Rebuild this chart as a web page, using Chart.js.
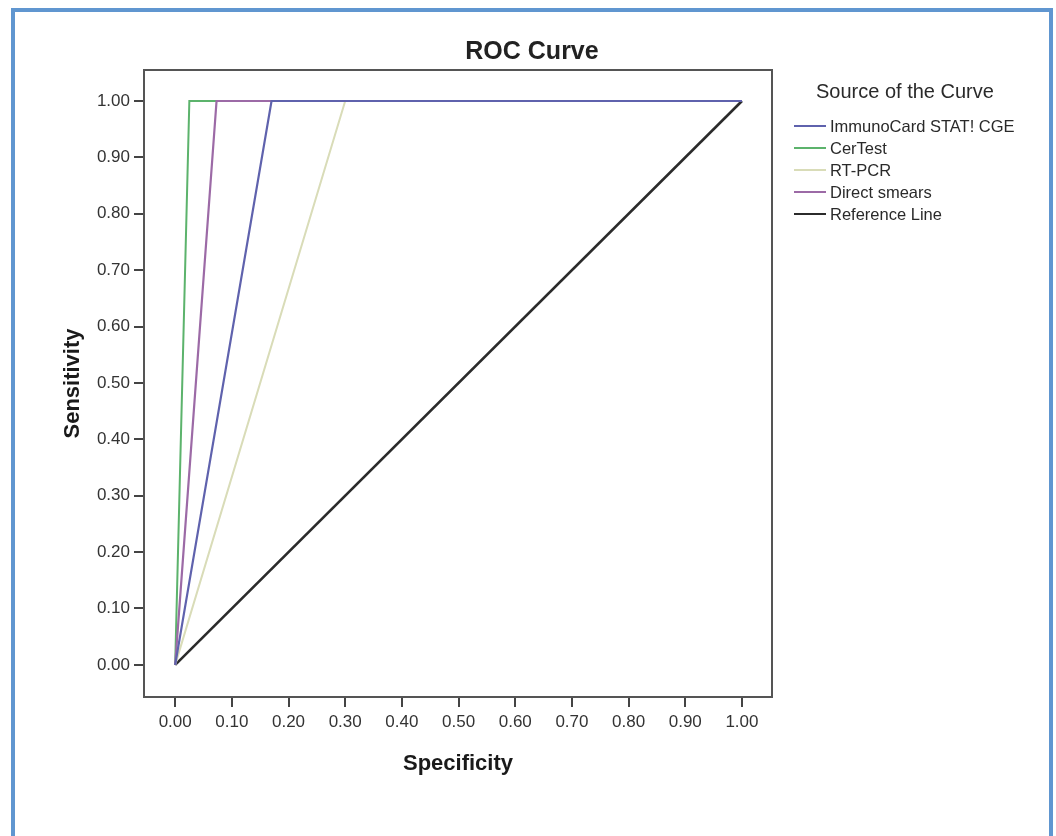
<!DOCTYPE html>
<html>
<head>
<meta charset="utf-8">
<script src="https://cdn.jsdelivr.net/npm/chart.js@4.4.1/dist/chart.umd.min.js"></script>
<style>
    body { margin: 0; background: #fff; font-family: "Liberation Sans", Arial, sans-serif; }
    #wrap { position: relative; width: 1056px; height: 836px; overflow: hidden; }
    #frame { position: absolute; left: 11px; top: 8px; width: 1034px; height: 840px;
             border: 4px solid #6096d0; border-bottom: none; }
    #roc_chart { position: absolute; left: 0; top: 0; }
    #title { position: absolute; left: 0; width: 1064px; top: 36px; text-align: center;
             font-size: 25px; font-weight: bold; color: #222; }
    #legend { position: absolute; left: 794px; top: 80px; color: #2a2a2a; }
    #legend .head { font-size: 20px; margin-left: 22px; margin-bottom: 12px; }
    #legend .row { display: flex; align-items: center; height: 22px; font-size: 16.5px; }
    #legend .swatch { width: 32px; margin-right: 4px; }
</style>
</head>
<body>
<div id="wrap">
    <div id="frame"></div>
    <canvas id="roc_chart" width="1056" height="836"></canvas>
    <div id="title">ROC Curve</div>
    <div id="legend"><div class="head">Source of the Curve</div></div>
</div>
<script>
// Courbes ROC (x = 1 - spécificité, y = sensibilité)
const curveNames = ["ImmunoCard STAT! CGE", "CerTest", "RT-PCR", "Direct smears", "Reference Line"];
const curveX = [
    [0, 0.17, 1],
    [0, 0.025, 1],
    [0, 0.30, 1],
    [0, 0.073, 1],
    [0, 1],
];
const curveY = [
    [0, 1, 1],
    [0, 1, 1],
    [0, 1, 1],
    [0, 1, 1],
    [0, 1],
];
const curveColors = ["#5f62ad", "#5cb36c", "#d9dcb8", "#9c6aa6", "#2b2b2b"];
const curveWidths = [2.2, 2, 2, 2.2, 2.6];
const tickValues = [0, 0.1, 0.2, 0.3, 0.4, 0.5, 0.6, 0.7, 0.8, 0.9, 1.0];

Chart.defaults.font.family = '"Liberation Sans", Arial, sans-serif';
Chart.defaults.color = "#333";

// Légende HTML
var legendBox = document.getElementById("legend");
curveNames.forEach(function (name, i) {
    var row = document.createElement("div");
    row.className = "row";
    var sw = document.createElement("div");
    sw.className = "swatch";
    sw.style.borderTop = curveWidths[i] + "px solid " + curveColors[i];
    var txt = document.createElement("span");
    txt.textContent = name;
    row.appendChild(sw);
    row.appendChild(txt);
    legendBox.appendChild(row);
});

// Cadre autour de la zone du graphique
const frameBox = {
    id: "frameBox",
    afterDatasetsDraw(chart) {
        const a = chart.chartArea;
        const ctx = chart.ctx;
        ctx.save();
        ctx.strokeStyle = "#555";
        ctx.lineWidth = 2;
        ctx.strokeRect(a.left, a.top, a.right - a.left, a.bottom - a.top);
        ctx.restore();
    },
};

const datasets = curveNames.map((name, i) => ({
    label: name,
    data: curveX[i].map((x, j) => ({ x: x, y: curveY[i][j] })),
    borderColor: curveColors[i],
    borderWidth: curveWidths[i],
    showLine: true,
    pointRadius: 0,
    fill: false,
    tension: 0,
}));
// ordre de dessin : la courbe ImmunoCard au-dessus, la référence derrière
datasets.forEach((d, i) => (d.order = [1, 4, 5, 2, 10][i]));

var ctx = document.getElementById("roc_chart").getContext("2d");
new Chart(ctx, {
    type: "scatter",
    data: { datasets: datasets },
    plugins: [frameBox],
    options: {
        responsive: false,
        animation: false,
        layout: { padding: { left: 0, top: 70, right: 284, bottom: 0 } },
        plugins: { legend: { display: false }, tooltip: { enabled: false } },
        scales: {
            x: {
                type: "linear",
                min: -0.055,
                max: 1.053,
                afterBuildTicks: (s) => { s.ticks = tickValues.map((v) => ({ value: v })); },
                afterFit: (s) => { s.height = 139; },
                border: { display: false },
                grid: { drawOnChartArea: false, drawTicks: true, tickLength: 10, color: "#444", lineWidth: 2 },
                ticks: { font: { size: 17 }, color: "#333", padding: 5, maxRotation: 0,
                         callback: (v) => v.toFixed(2) },
                title: { display: true, text: "Specificity", color: "#1a1a1a",
                         font: { size: 22, weight: "bold" }, padding: { top: 0, bottom: 59 } },
            },
            y: {
                type: "linear",
                min: -0.057,
                max: 1.055,
                afterBuildTicks: (s) => { s.ticks = tickValues.map((v) => ({ value: v })); },
                afterFit: (s) => { s.width = 144; },
                border: { display: false },
                grid: { drawOnChartArea: false, drawTicks: true, tickLength: 10, color: "#444", lineWidth: 2 },
                ticks: { font: { size: 17 }, color: "#333", padding: 4,
                         callback: (v) => v.toFixed(2) },
                title: { display: true, text: "Sensitivity", color: "#1a1a1a",
                         font: { size: 22, weight: "bold" }, padding: { top: 60, bottom: 0 } },
            },
        },
    },
});
</script>
</body>
</html>
